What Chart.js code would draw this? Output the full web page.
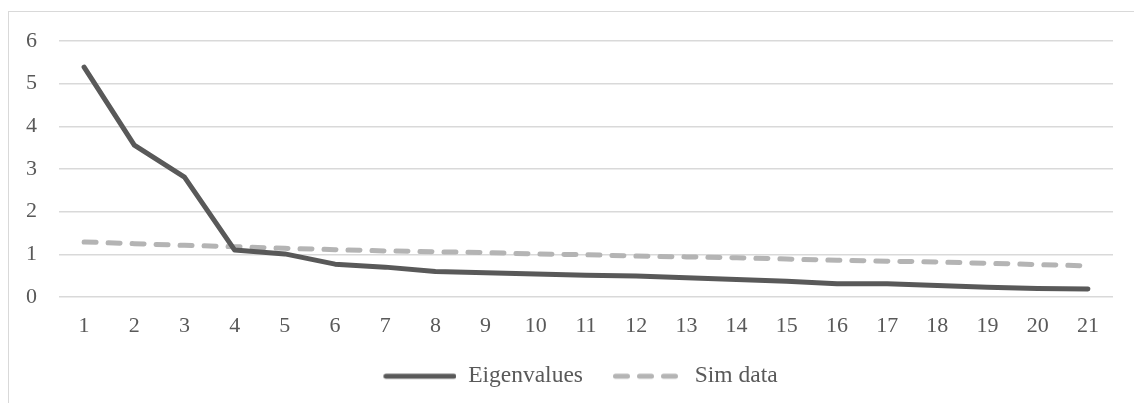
<!DOCTYPE html>
<html>
<head>
<meta charset="utf-8">
<script src="https://cdn.jsdelivr.net/npm/chart.js@4"></script>
<style>
  html, body { margin: 0; padding: 0; background: #fff; overflow: hidden; }
  #box {
    position: absolute; left: 8px; top: 11px;
    width: 1130px; height: 392px;
    border-left: 1px solid #d9d9d9; border-top: 1px solid #d9d9d9;
  }
  #wrap { position: absolute; left: 9px; top: 12px; width: 1129px; height: 391px; }
</style>
</head>
<body>
<div id="box"></div>
<div id="wrap"><canvas id="myChart"></canvas></div>
<script>
// components 1..21
const categories = ['1','2','3','4','5','6','7','8','9','10','11','12','13','14','15','16','17','18','19','20','21'];
const eigenvalues = [5.39, 3.56, 2.81, 1.10, 1.01, 0.77, 0.70, 0.60, 0.57, 0.54, 0.51, 0.49, 0.45, 0.41, 0.37, 0.31, 0.31, 0.27, 0.23, 0.20, 0.19];
const simData = [1.29, 1.25, 1.21, 1.18, 1.14, 1.11, 1.08, 1.06, 1.04, 1.01, 0.99, 0.96, 0.94, 0.92, 0.89, 0.86, 0.84, 0.82, 0.79, 0.76, 0.73];
const yTicks = [0, 1, 2, 3, 4, 5, 6];

const textColor = '#595959';
const fontFam = '"Liberation Serif", "Times New Roman", serif';
const eigenColor = '#595959';
const simColor = '#b4b4b4';

// small pictures for the legend symbols (solid line / dashed line)
function legendSymbol(color, dash, x0) {
  const c = document.createElement('canvas');
  c.width = 90;
  c.height = 8;
  const ctx = c.getContext('2d');
  ctx.strokeStyle = color;
  ctx.lineWidth = 5;
  ctx.lineCap = 'round';
  ctx.setLineDash(dash);
  ctx.beginPath();
  ctx.moveTo(x0, 4);
  ctx.lineTo(87.5, 4);
  ctx.stroke();
  return c;
}
const eigenSymbol = legendSymbol(eigenColor, [], 19.5);
const simSymbol = legendSymbol(simColor, [12, 12], 22.5);

// the legend sits a little right of centre in the original
const legendShift = {
  id: 'legendShift',
  afterLayout(chart) {
    chart.legend.left += 2.5;
    chart.legend.right += 2.5;
  }
};

const myChart = document.getElementById('myChart');

let lineChart = new Chart(myChart, {
  type: 'line',
  data: {
    labels: categories,
    datasets: [{
      label: 'Eigenvalues',
      data: eigenvalues,
      borderColor: eigenColor,
      backgroundColor: eigenColor,
      borderWidth: 5,
      borderCapStyle: 'round',
      borderJoinStyle: 'round',
      pointRadius: 0,
      pointStyle: eigenSymbol,
      tension: 0
    }, {
      label: 'Sim data',
      data: simData,
      borderColor: simColor,
      backgroundColor: simColor,
      borderWidth: 5,
      borderDash: [12, 12],
      borderCapStyle: 'round',
      pointRadius: 0,
      pointStyle: simSymbol,
      tension: 0
    }]
  },
  options: {
    responsive: true,
    maintainAspectRatio: false,
    animation: false,
    layout: { padding: { top: 29, right: 25, bottom: 5, left: 17 } },
    scales: {
      x: {
        offset: true,
        grid: { display: false, drawTicks: false },
        border: { display: false },
        ticks: { color: textColor, font: { family: fontFam, size: 22 }, padding: 16, maxRotation: 0, autoSkip: false },
        afterFit: s => { s.height = 57.5; }
      },
      y: {
        min: 0,
        max: 6,
        afterBuildTicks: s => { s.ticks = yTicks.map(v => ({ value: v })); },
        grid: { color: '#d9d9d9', lineWidth: 1.5, drawTicks: false },
        border: { display: false },
        ticks: { color: textColor, font: { family: fontFam, size: 22 }, padding: 0, crossAlign: 'far' },
        afterFit: s => { s.width = 33; }
      }
    },
    plugins: {
      tooltip: { enabled: false },
      legend: {
        position: 'bottom',
        labels: {
          color: textColor,
          font: { family: fontFam, size: 23.5 },
          usePointStyle: true,
          pointStyleWidth: 90,
          padding: 10
        }
      }
    }
  },
  plugins: [legendShift]
});
</script>
</body>
</html>
